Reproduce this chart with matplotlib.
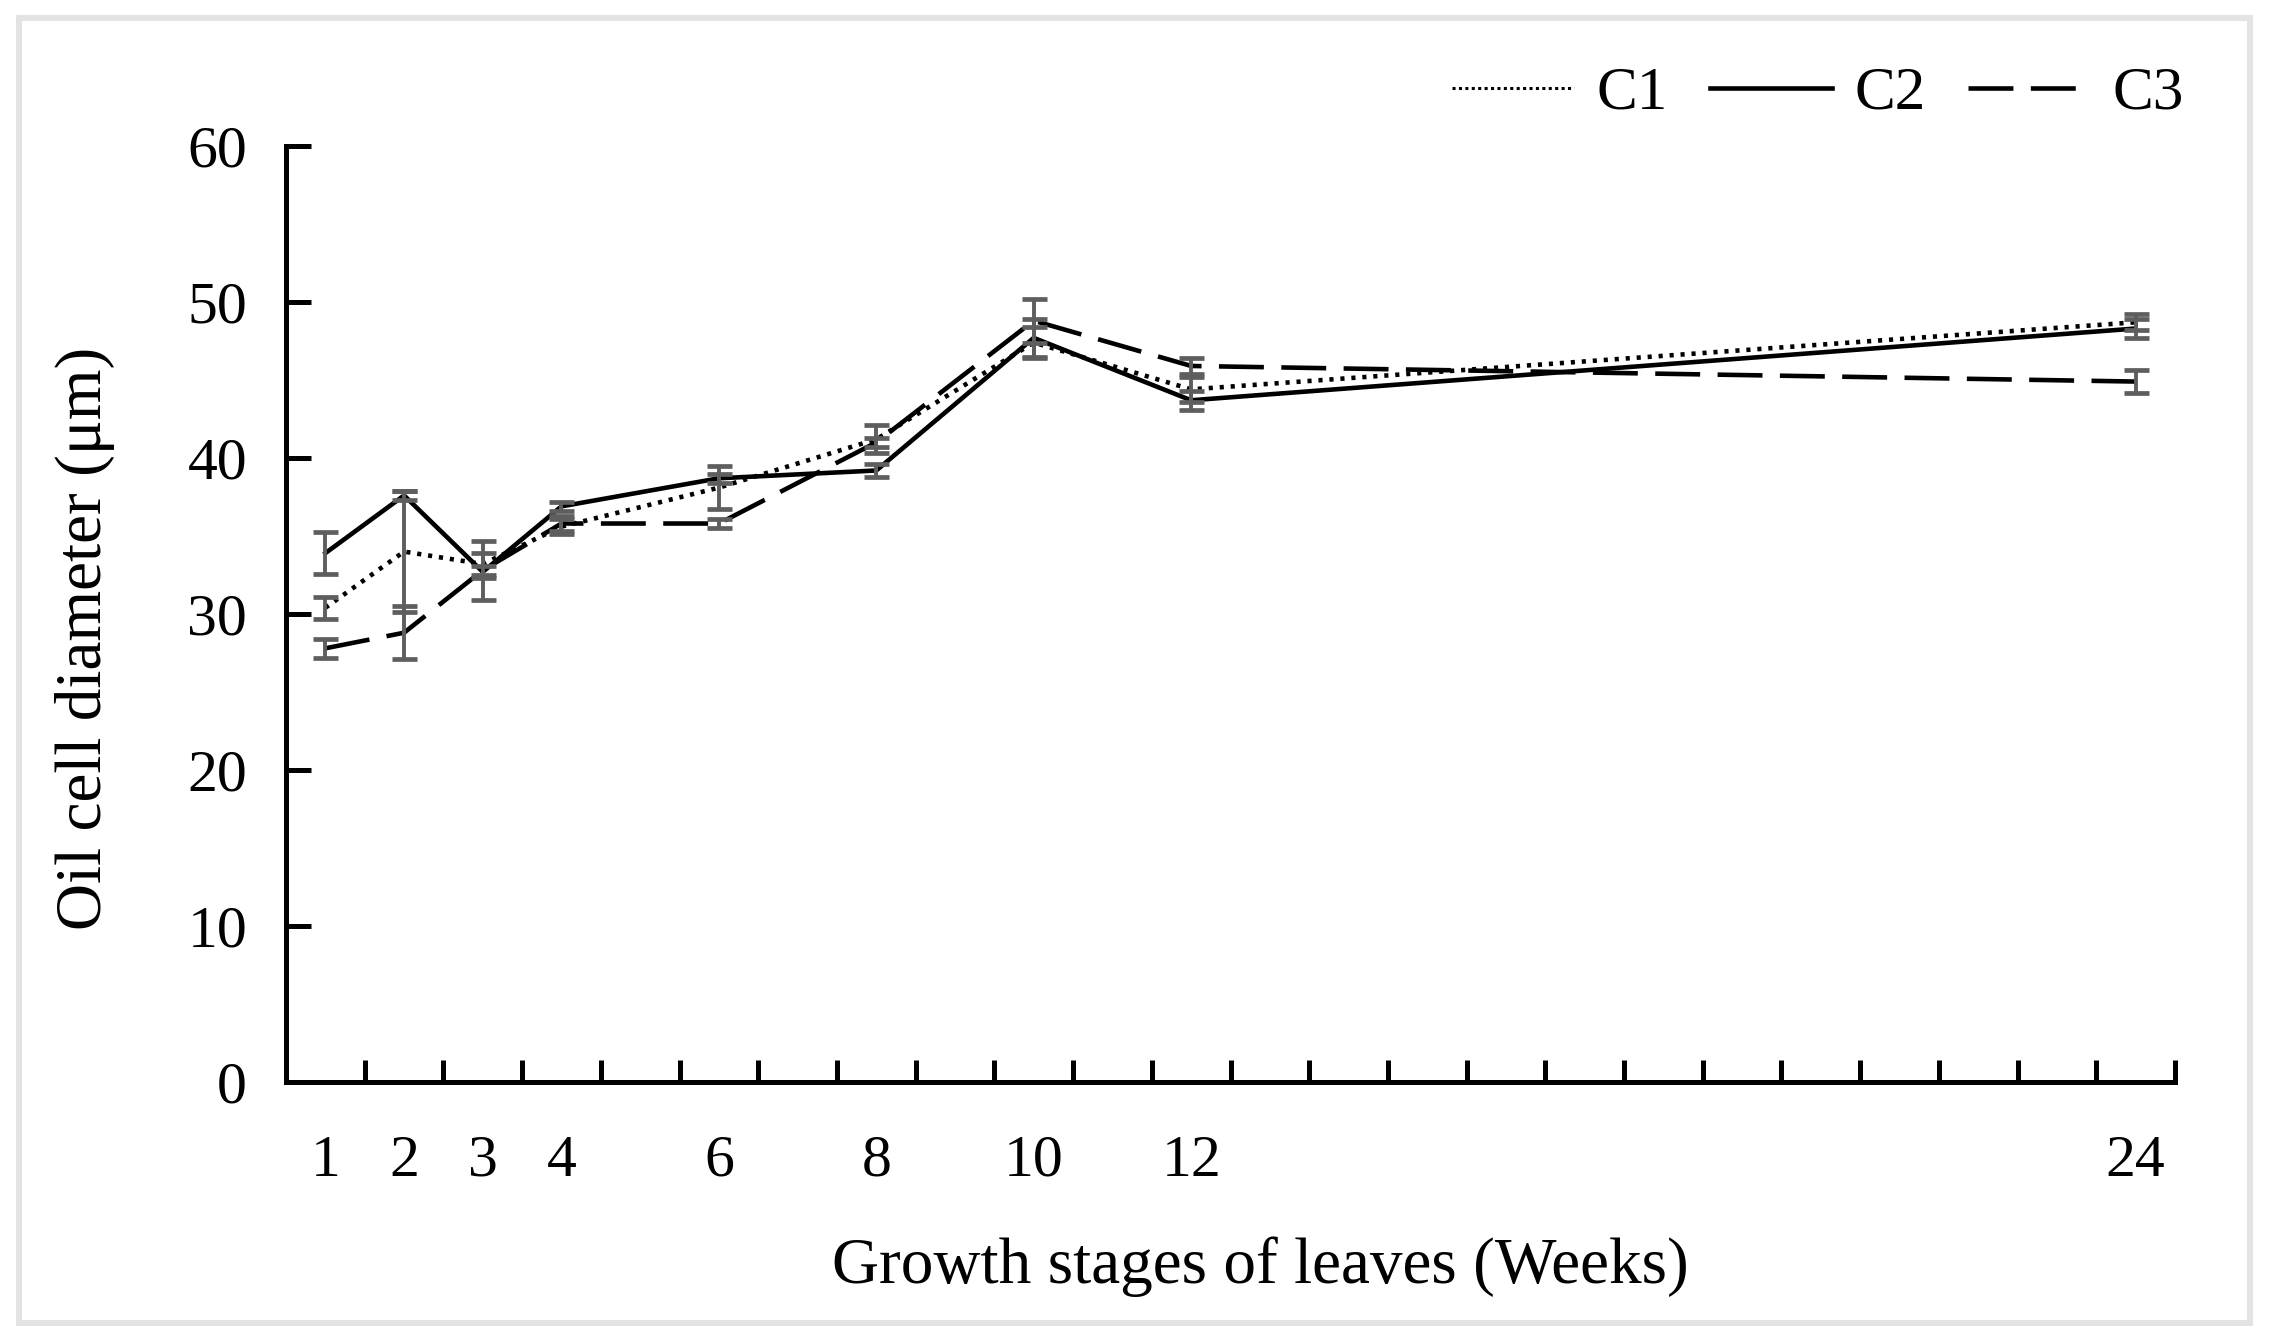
import matplotlib
matplotlib.use('Agg')
import matplotlib.pyplot as plt
from matplotlib.patches import Rectangle
from matplotlib.lines import Line2D

# ---- data ----
weeks = [1, 2, 3, 4, 6, 8, 10, 12, 24]
c1 = [30.4, 34.0, 33.2, 35.6, 38.1, 41.2, 47.4, 44.4, 48.7]
c1_err = [0.7, 3.9, 0.7, 0.5, 1.4, 0.9, 1.0, 0.8, 0.5]
c2 = [33.9, 37.6, 32.7, 36.9, 38.7, 39.2, 47.7, 43.7, 48.3]
c2_err = [1.35, 0.3, 0.4, 0.3, 0.3, 0.4, 1.2, 0.6, 0.6]
c3 = [27.8, 28.8, 32.8, 35.8, 35.8, 41.0, 48.8, 45.9, 44.9]
c3_err = [0.6, 1.7, 1.9, 0.5, 0.3, 0.3, 1.4, 0.5, 0.75]
xtick_labels = ['1', '2', '3', '4', '6', '8', '10', '12', '24']
series_names = ['C1', 'C2', 'C3']
y_ticks = [0, 10, 20, 30, 40, 50, 60]

W, H = 2271, 1341
plt.rcParams['font.family'] = ['Liberation Serif', 'DejaVu Serif']
FS = 43
FS_LAB = 47
FS_LEG = 44

fig = plt.figure(figsize=(W / 100, H / 100), dpi=100)
fig.patch.set_facecolor('white')

ax = fig.add_axes([286 / W, 1 - 1082 / H, (2175 - 286) / W, (1082 - 146) / H])

LW = 3.3
styles = [
    dict(color='black', lw=LW, dashes=[0.9, 1.5], dash_capstyle='butt'),
    dict(color='black', lw=LW, ls='-'),
    dict(color='black', lw=LW, dashes=[9.8, 3.8], dash_capstyle='butt'),
]
for vals, st in zip([c1, c2, c3], styles):
    ax.plot(weeks, vals, zorder=3, **st)

for vals, errs in zip([c1, c2, c3], [c1_err, c2_err, c3_err]):
    ax.errorbar(weeks, vals, yerr=errs, fmt='none', ecolor='#5e5e5e',
                elinewidth=2.8, capsize=9, capthick=3.4, zorder=4)

ax.set_xlim(0.5, 24.5)
ax.set_ylim(0, 60)
for s in ['top', 'right']:
    ax.spines[s].set_visible(False)
for s in ['left', 'bottom']:
    ax.spines[s].set_linewidth(3.6)
    ax.spines[s].set_color('black')

ax.set_xticks([i + 0.5 for i in range(0, 25)])
ax.set_xticklabels([])
ax.set_xticks(weeks, minor=True)
ax.set_xticklabels(xtick_labels, minor=True, fontsize=FS)
ax.tick_params(axis='x', which='major', direction='in', length=16, width=3.6, color='black')
ax.tick_params(axis='x', which='minor', length=0, pad=38)
ax.set_yticks(y_ticks)
ax.set_yticklabels([str(v) for v in y_ticks], fontsize=FS)
ax.tick_params(axis='y', which='major', direction='in', length=18, width=3.6, pad=28)

fig.text(85 / W, 1 - 638 / H, 'Oil cell diameter (μm)', rotation=90,
         ha='center', va='center', fontsize=FS_LAB)
fig.text(1260 / W, 1 - 1267 / H, 'Growth stages of leaves (Weeks)',
         ha='center', va='center', fontsize=FS_LAB)

leg_handles = [Line2D([0], [0], **st) for st in styles]
leg_handles[0].set_linewidth(2.2)
leg_handles[0].set_dashes([1, 1.1])
fig.legend(leg_handles, series_names, loc='center right',
           bbox_to_anchor=(2184 / W, 1 - 94 / H), ncol=3, frameon=False,
           fontsize=FS_LEG, handlelength=2.0, handletextpad=0.36,
           columnspacing=0.7, borderpad=0, borderaxespad=0)

fig.add_artist(Rectangle((18.5 / W, 18.5 / H), (2250 - 18.5) / W, (1323 - 18.5) / H,
                         transform=fig.transFigure, fill=False,
                         edgecolor='#e3e3e3', lw=4.3))

fig.savefig('out.png', dpi=100, facecolor='white')
